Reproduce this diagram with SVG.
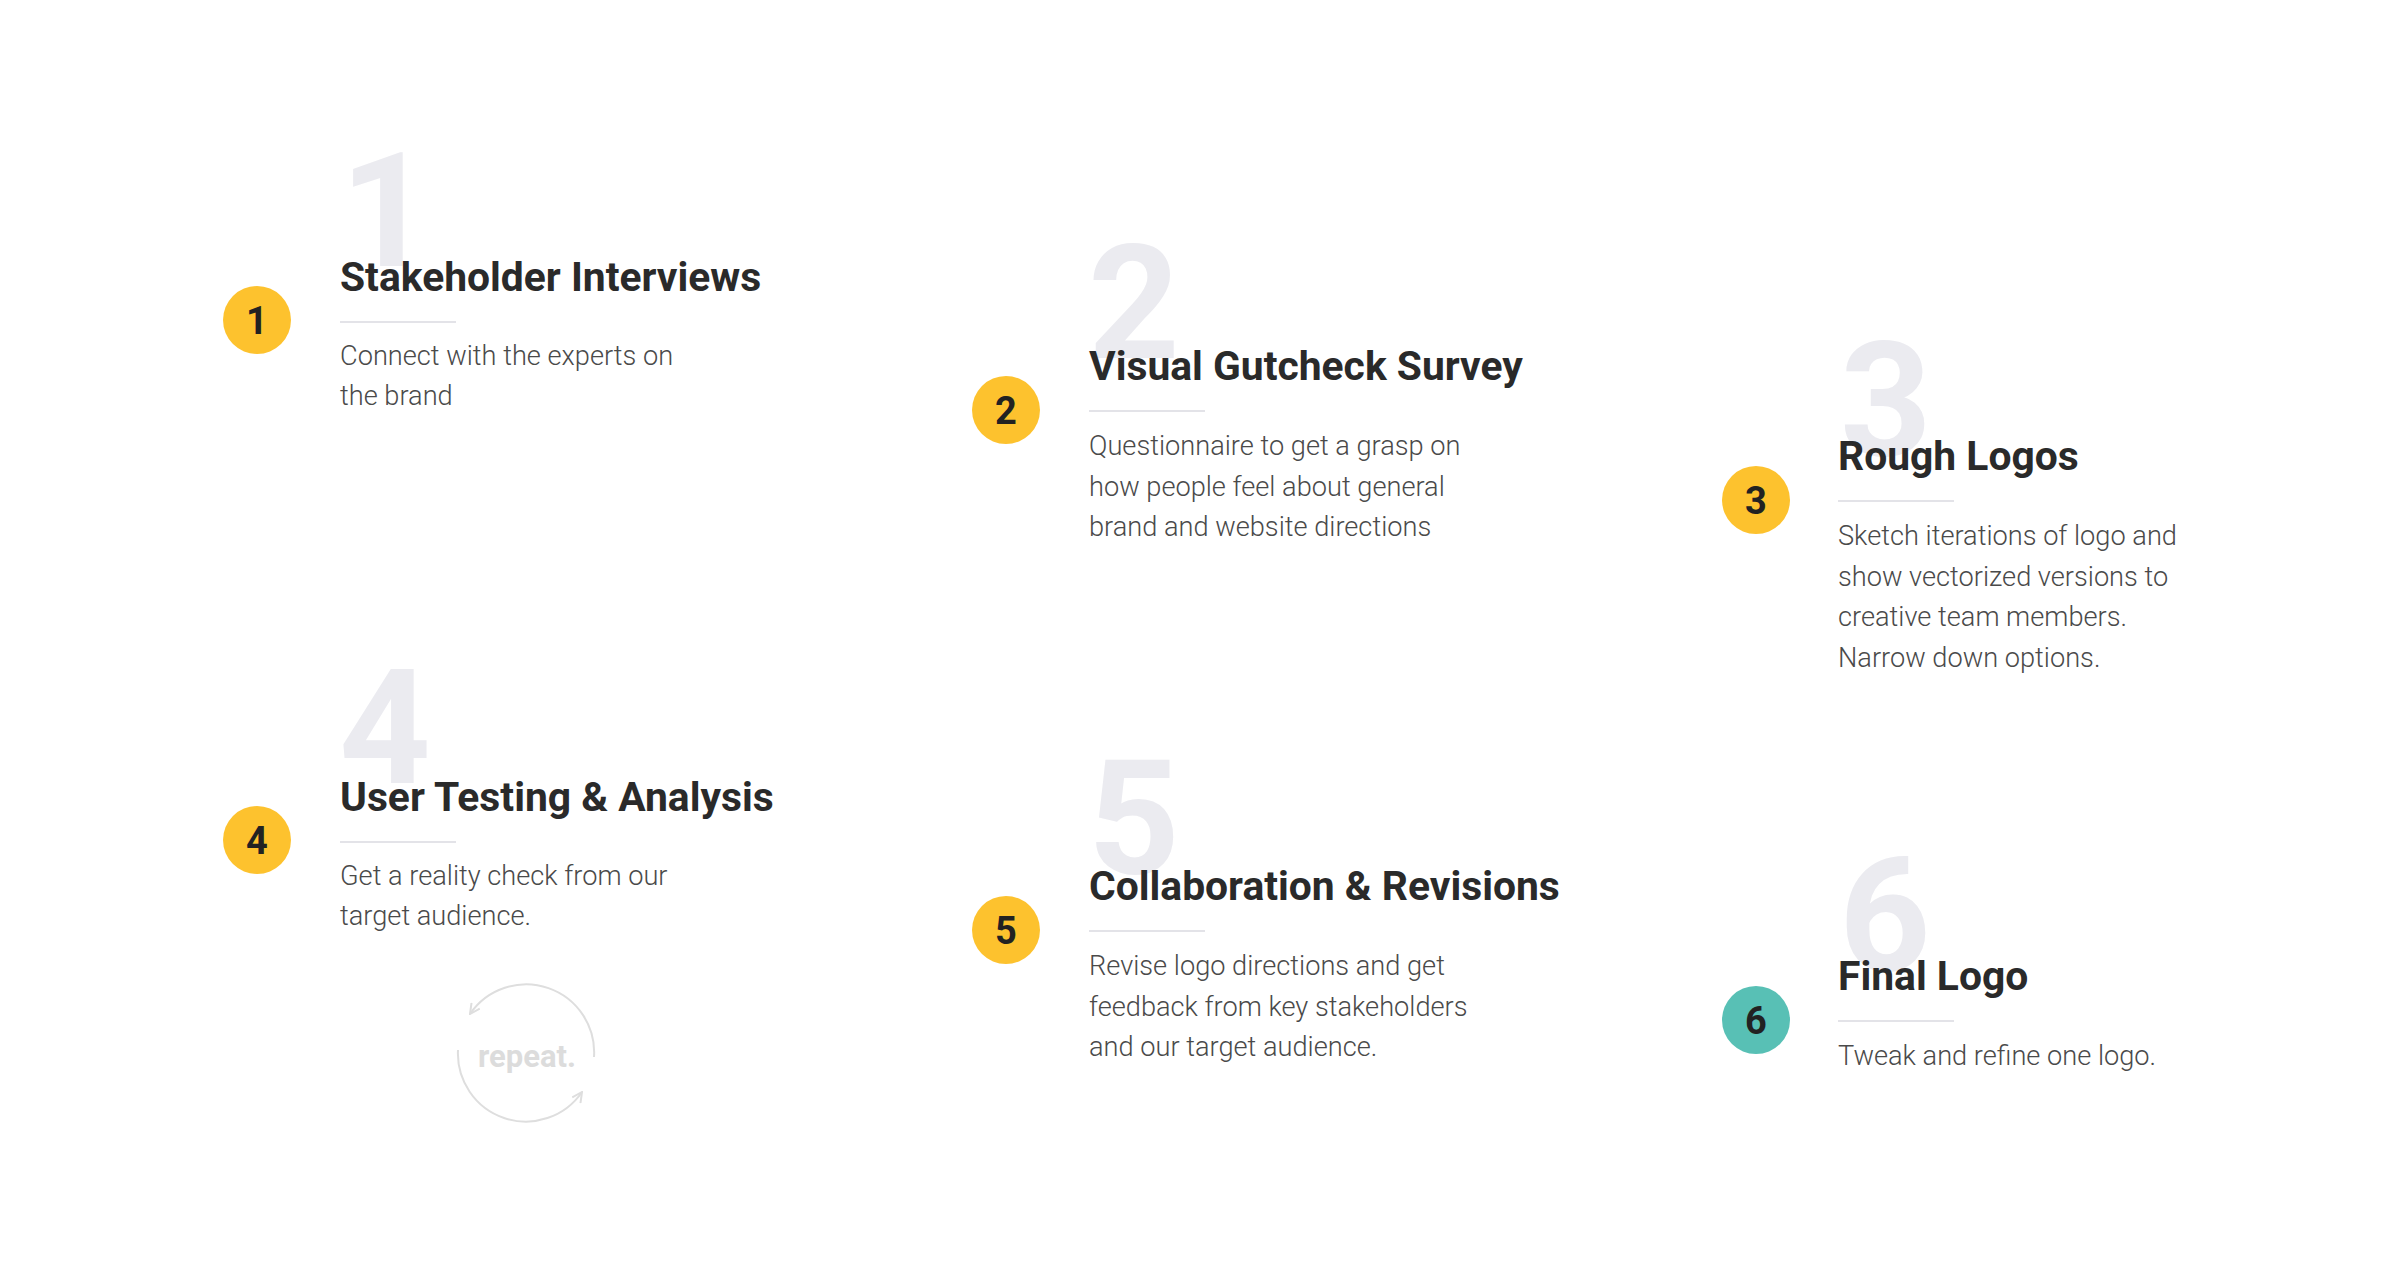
<svg xmlns="http://www.w3.org/2000/svg" width="2402" height="1272" viewBox="0 0 2402 1272">
<style>
.bg{fill:#ffffff}
.big{font-family:Roboto,"Liberation Sans",sans-serif;font-weight:700;font-size:160px;fill:#ebebf0}
.title{font-family:Roboto,"Liberation Sans",sans-serif;font-weight:700;font-size:40.8px;fill:#2a2a2a}
.desc{font-family:Roboto,"Liberation Sans",sans-serif;font-weight:300;font-size:27.2px;fill:#4a4a4a}
.rule{stroke:#e3e3e8;stroke-width:2}
.badge{fill:#fdc22e}
.badge.teal{fill:#58c0b5}
.num{font-family:Roboto,"Liberation Sans",sans-serif;font-weight:700;font-size:38px;fill:#222222;text-anchor:middle}
.rep{font-family:Roboto,"Liberation Sans",sans-serif;font-weight:700;font-size:31px;fill:#dcdcdc;text-anchor:middle}
.arc{fill:none;stroke:#dedede;stroke-width:2}
</style>
<defs>
<marker id="chev" viewBox="0 0 12 12" refX="11" refY="6" markerWidth="12" markerHeight="12" markerUnits="userSpaceOnUse" orient="auto">
<path d="M1,1 L11,6 L1,11" fill="none" stroke="#dedede" stroke-width="2"/>
</marker>
</defs>
<rect class="bg" x="0" y="0" width="2402" height="1272"/>

<g id="step1">
<text class="big" x="340" y="266">1</text>
<circle class="badge" cx="257" cy="320" r="34"/>
<text class="num" x="257" y="334">1</text>
<text class="title" x="340" y="291">Stakeholder Interviews</text>
<line class="rule" x1="340" y1="322" x2="456" y2="322"/>
<text class="desc" x="340" y="365">Connect with the experts on</text>
<text class="desc" x="340" y="405">the brand</text>
</g>

<g id="step2">
<text class="big" x="1088" y="358">2</text>
<circle class="badge" cx="1006" cy="410" r="34"/>
<text class="num" x="1006" y="424">2</text>
<text class="title" x="1089" y="380">Visual Gutcheck Survey</text>
<line class="rule" x1="1089" y1="411" x2="1205" y2="411"/>
<text class="desc" x="1089" y="455">Questionnaire to get a grasp on</text>
<text class="desc" x="1089" y="495.5">how people feel about general</text>
<text class="desc" x="1089" y="536">brand and website directions</text>
</g>

<g id="step3">
<text class="big" x="1840" y="455">3</text>
<circle class="badge" cx="1756" cy="500" r="34"/>
<text class="num" x="1756" y="514">3</text>
<text class="title" x="1838" y="470">Rough Logos</text>
<line class="rule" x1="1838" y1="501" x2="1954" y2="501"/>
<text class="desc" x="1838" y="545">Sketch iterations of logo and</text>
<text class="desc" x="1838" y="585.5">show vectorized versions to</text>
<text class="desc" x="1838" y="626">creative team members.</text>
<text class="desc" x="1838" y="666.5">Narrow down options.</text>
</g>

<g id="step4">
<text class="big" x="339" y="783">4</text>
<circle class="badge" cx="257" cy="840" r="34"/>
<text class="num" x="257" y="854">4</text>
<text class="title" x="340" y="811">User Testing &amp; Analysis</text>
<line class="rule" x1="340" y1="842" x2="456" y2="842"/>
<text class="desc" x="340" y="885">Get a reality check from our</text>
<text class="desc" x="340" y="925">target audience.</text>
</g>

<g id="step5">
<text class="big" x="1088" y="873">5</text>
<circle class="badge" cx="1006" cy="930" r="34"/>
<text class="num" x="1006" y="944">5</text>
<text class="title" x="1089" y="900">Collaboration &amp; Revisions</text>
<line class="rule" x1="1089" y1="931" x2="1205" y2="931"/>
<text class="desc" x="1089" y="975">Revise logo directions and get</text>
<text class="desc" x="1089" y="1015.5">feedback from key stakeholders</text>
<text class="desc" x="1089" y="1056">and our target audience.</text>
</g>

<g id="step6">
<text class="big" x="1839" y="970">6</text>
<circle class="badge teal" cx="1756" cy="1020" r="34"/>
<text class="num" x="1756" y="1034">6</text>
<text class="title" x="1838" y="990">Final Logo</text>
<line class="rule" x1="1838" y1="1021" x2="1954" y2="1021"/>
<text class="desc" x="1838" y="1065">Tweak and refine one logo.</text>
</g>

<g id="repeat">
<text class="rep" x="527" y="1067">repeat.</text>
</g>

<g id="connectors">
<path class="arc" d="M594,1057 A68,68 0 0 0 470,1014" marker-end="url(#chev)"/>
<path class="arc" d="M458,1050 A68,68 0 0 0 582,1092" marker-end="url(#chev)"/>
</g>
</svg>
